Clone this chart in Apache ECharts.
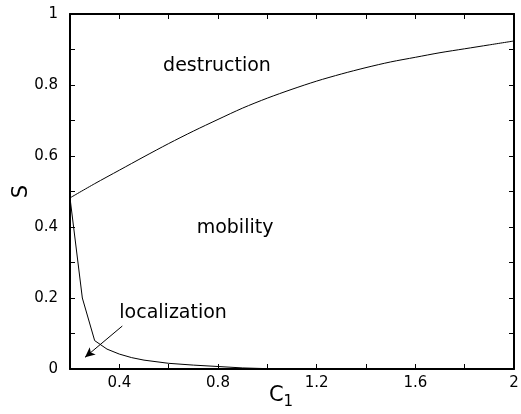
<!DOCTYPE html>
<html>
<head>
<meta charset="utf-8">
<script src="https://cdn.jsdelivr.net/npm/echarts@6/dist/echarts.min.js"></script>
<style>html,body{margin:0;padding:0;background:#fff;}#c{width:521px;height:414px;}</style>
</head>
<body>
<div id="c"></div>
<script>
// Upper boundary (destruction / mobility)
const upperC = [0.2,0.3,0.4,0.5,0.6,0.7,0.8,0.9,1.0,1.1,1.2,1.3,1.4,1.5,1.6,1.7,1.8,1.9,2.0];
const upperS = [0.482,0.522,0.560,0.598,0.635,0.670,0.703,0.735,0.763,0.788,0.811,0.831,0.849,0.865,0.878,0.891,0.902,0.913,0.924];
// Lower boundary (mobility / localization)
const lowerC = [0.2,0.25,0.3,0.35,0.4,0.45,0.5,0.6,0.7,0.8,0.9,1.0,1.2,1.6,2.0];
const lowerS = [0.482,0.20,0.08,0.056,0.042,0.032,0.025,0.016,0.011,0.007,0.003,0.001,0,0,0];
// Region labels
const regionNames = ['destruction','mobility','localization'];
const regionC = [0.796,0.869,0.618];
const regionS = [0.854,0.397,0.158];
// Arrow (from label to region)
const arrowFrom = [0.412,0.121];
const arrowTo = [0.261,0.033];
// Axis settings
const xMin = 0.2, xMax = 2, xStep = 0.2, xLabelStep = 0.4;
const yMin = 0, yMax = 1, yStep = 0.1, yLabelStep = 0.2;

const FONT = 'DejaVu Sans';
function onStep(v, step){ const r = v/step; return Math.abs(r-Math.round(r)) < 1e-6; }
function fmt(v){ return String(Math.round(v*10)/10); }

const chart = echarts.init(document.getElementById('c'), null, {renderer:'canvas'});
const axisCommon = {
  axisLine:{show:true, onZero:false, lineStyle:{color:'#000', width:2}},
  axisTick:{show:true, inside:true, length:5, lineStyle:{color:'#000', width:1}},
  splitLine:{show:false}
};
chart.setOption({
  animation:false,
  backgroundColor:'#fff',
  grid:{left:70, right:7, top:14, bottom:45, containLabel:false, outerBoundsMode:'none'},
  xAxis:[
    Object.assign({type:'value', min:xMin, max:xMax, interval:xStep, position:'bottom',
      name:'{a|C}{b|1}', nameLocation:'middle', nameGap:16, nameMoveOverlap:false,
      nameTextStyle:{padding:[0,22,0,0], verticalAlign:'top',
        rich:{a:{fontFamily:FONT, fontSize:21, lineHeight:22, color:'#000', verticalAlign:'top'},
              b:{fontFamily:FONT, fontSize:15, lineHeight:16, color:'#000', padding:[10,0,0,0], verticalAlign:'top'}}},
      axisLabel:{fontFamily:FONT, fontSize:15, color:'#000', margin:7,
        formatter:v => (onStep(v, xLabelStep) ? fmt(v) : '')}}, axisCommon),
    Object.assign({type:'value', min:xMin, max:xMax, interval:xStep, position:'top',
      axisLabel:{show:false}}, axisCommon)
  ],
  yAxis:[
    Object.assign({type:'value', min:yMin, max:yMax, interval:yStep, position:'left',
      name:'S', nameLocation:'middle', nameGap:38, nameRotate:90, nameMoveOverlap:false,
      nameTextStyle:{fontFamily:FONT, fontSize:21, color:'#000'},
      axisLabel:{fontFamily:FONT, fontSize:15, color:'#000', margin:12,
        formatter:v => (onStep(v, yLabelStep) ? fmt(v) : '')}}, axisCommon),
    Object.assign({type:'value', min:yMin, max:yMax, interval:yStep, position:'right',
      axisLabel:{show:false}}, axisCommon)
  ],
  series:[
    {type:'line', data:upperC.map((c,i)=>[c,upperS[i]]), showSymbol:false, smooth:0.3,
      lineStyle:{color:'#000', width:1}, z:3},
    {type:'line', data:lowerC.map((c,i)=>[c,lowerS[i]]), showSymbol:false,
      lineStyle:{color:'#000', width:1}, z:3,
      markLine:{silent:true, symbol:['none','arrow'], symbolSize:[7,10], label:{show:false},
        lineStyle:{color:'#000', width:1, type:'solid'},
        data:[[{coord:arrowFrom},{coord:arrowTo}]]}},
    {type:'scatter', symbolSize:0, itemStyle:{opacity:1},
      data:regionNames.map((n,i)=>({name:n, value:[regionC[i], regionS[i]]})),
      label:{show:true, position:[0,0], align:'center', verticalAlign:'middle', formatter:p=>p.name,
        fontFamily:FONT, fontSize:19, color:'#000', opacity:1, textBorderWidth:0}, z:5}
  ]
});
</script>
</body>
</html>
